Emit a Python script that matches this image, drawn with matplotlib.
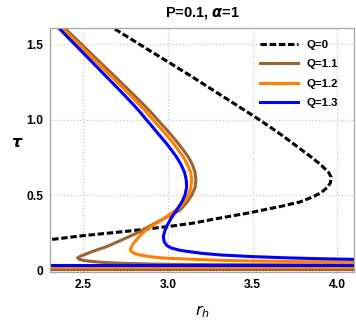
import matplotlib
matplotlib.use("Agg")
from matplotlib import pyplot as plt

plt.rcParams['font.family'] = ['Liberation Sans', 'DejaVu Sans']

# values (r_h, tau)
q0_r = [2.686, 2.83, 2.975, 3.12, 3.26, 3.40, 3.54, 3.67, 3.79, 3.85, 3.905, 3.95, 3.965, 3.96, 3.94,
        3.91, 3.86, 3.78, 3.66, 3.466, 3.30, 3.15, 3.0, 2.75, 2.5, 2.3]
q0_t = [1.60, 1.50, 1.40, 1.30, 1.20, 1.10, 1.00, 0.90, 0.80, 0.75, 0.70, 0.65, 0.62, 0.58, 0.55,
        0.52, 0.49, 0.455, 0.424, 0.38, 0.347, 0.315, 0.292, 0.26, 0.232, 0.205]

q11_r = [2.395, 2.765, 2.855, 2.898, 2.938, 2.978, 3.018, 3.055, 3.09, 3.122, 3.145, 3.16, 3.165,
         3.16, 3.14, 3.11, 3.07, 3.0, 2.95, 2.90, 2.834, 2.72, 2.637, 2.56, 2.515, 2.48, 2.465,
         2.475, 2.50, 2.54, 2.58, 2.64, 2.75, 2.85, 3.0, 3.3, 4.1]
q11_t = [1.60, 1.20, 1.10, 1.05, 1.00, 0.95, 0.90, 0.85, 0.80, 0.75, 0.70, 0.65, 0.60,
         0.55, 0.50, 0.45, 0.40, 0.36, 0.33, 0.30, 0.258, 0.20, 0.159, 0.13, 0.11, 0.095, 0.085,
         0.075, 0.068, 0.062, 0.058, 0.053, 0.048, 0.045, 0.042, 0.040, 0.038]

q12_r = [2.38, 2.743, 2.83, 2.872, 2.91, 2.95, 2.99, 3.027, 3.06, 3.092, 3.115, 3.135, 3.14, 3.135,
         3.12, 3.095, 3.07, 3.02, 2.97, 2.91, 2.86, 2.825, 2.795, 2.78, 2.777, 2.785, 2.80, 2.83,
         2.88, 2.93, 3.0, 3.15, 3.32, 3.5, 3.8, 4.1]
q12_t = [1.60, 1.20, 1.10, 1.05, 1.00, 0.95, 0.90, 0.85, 0.80, 0.75, 0.70, 0.65, 0.60, 0.55,
         0.50, 0.45, 0.42, 0.38, 0.34, 0.30, 0.26, 0.22, 0.18, 0.15, 0.137, 0.125, 0.115, 0.105,
         0.095, 0.088, 0.082, 0.075, 0.068, 0.064, 0.060, 0.057]

q13_r = [2.36, 2.71, 2.795, 2.835, 2.872, 2.91, 2.947, 2.985, 3.02, 3.052, 3.078, 3.098, 3.108,
         3.11, 3.10, 3.08, 3.05, 3.02, 2.995, 2.98, 2.972, 2.978, 2.995, 3.02, 3.07, 3.13, 3.2,
         3.31, 3.5, 3.7, 3.9, 4.1]
q13_t = [1.60, 1.20, 1.10, 1.05, 1.00, 0.95, 0.90, 0.85, 0.80, 0.75, 0.70, 0.65, 0.60,
         0.55, 0.50, 0.45, 0.40, 0.35, 0.30, 0.26, 0.225, 0.19, 0.165, 0.15, 0.135, 0.125, 0.115,
         0.104, 0.093, 0.085, 0.079, 0.075]

# flat branches near tau ~ 0
flat_r = [2.3, 4.1]
flat_t = {'Q=1.1': 0.012, 'Q=1.2': 0.026, 'Q=1.3': 0.040}

colors = {'Q=1.1': '#996633', 'Q=1.2': '#ff8000', 'Q=1.3': '#0000ff'}
curves = {'Q=1.1': (q11_r, q11_t), 'Q=1.2': (q12_r, q12_t), 'Q=1.3': (q13_r, q13_t)}


def main():
    fig = plt.figure(figsize=(3.56, 3.21), dpi=100)
    ax = fig.add_axes([0.1404, 0.1526, 0.854, 0.7601])
    lw = 2.2

    ax.plot(q0_r, q0_t, color='black', lw=lw, dashes=(2.1, 0.9), label='Q=0')
    for name, (r, t) in curves.items():
        ax.plot(r, t, color=colors[name], lw=lw, label=name, solid_joinstyle='round')
    for name in curves:
        ax.plot(flat_r, [flat_t[name]] * 2, color=colors[name], lw=lw)

    ax.set_xlim(2.302, 4.10)
    ax.set_ylim(-0.009, 1.607)
    ax.set_xticks([2.5, 3.0, 3.5, 4.0])
    ax.set_yticks([0, 0.5, 1.0, 1.5])
    ax.set_yticklabels(['0', '0.5', '1.0', '1.5'])
    ax.grid(True, color='#c8c8c8', linestyle=':', linewidth=0.9)
    ax.tick_params(length=0, pad=5, labelsize=8.7)
    for lab in ax.get_xticklabels() + ax.get_yticklabels():
        lab.set_fontweight('bold')
    for sp in ax.spines.values():
        sp.set_color('#a6a6a6')
        sp.set_linewidth(0.9)

    ax.set_xlabel(r'$\boldsymbol{r_h}$', fontsize=11.5, labelpad=9)
    ax.set_ylabel(r'$\boldsymbol{\tau}$', fontsize=11.5, rotation=0, labelpad=6)
    ax.set_title(r'P=0.1, $\boldsymbol{\alpha}$=1', fontsize=10.5, fontweight='bold', pad=8)

    leg = ax.legend(loc='upper left', bbox_to_anchor=(0.676, 0.969), frameon=False, fontsize=8.2,
                    handlelength=3.34, labelspacing=0.82, borderaxespad=0, borderpad=0.4,
                    handletextpad=0.7)
    for txt in leg.get_texts():
        txt.set_fontweight('bold')

    fig.savefig('out.png', dpi=100)


if __name__ == '__main__':
    main()
